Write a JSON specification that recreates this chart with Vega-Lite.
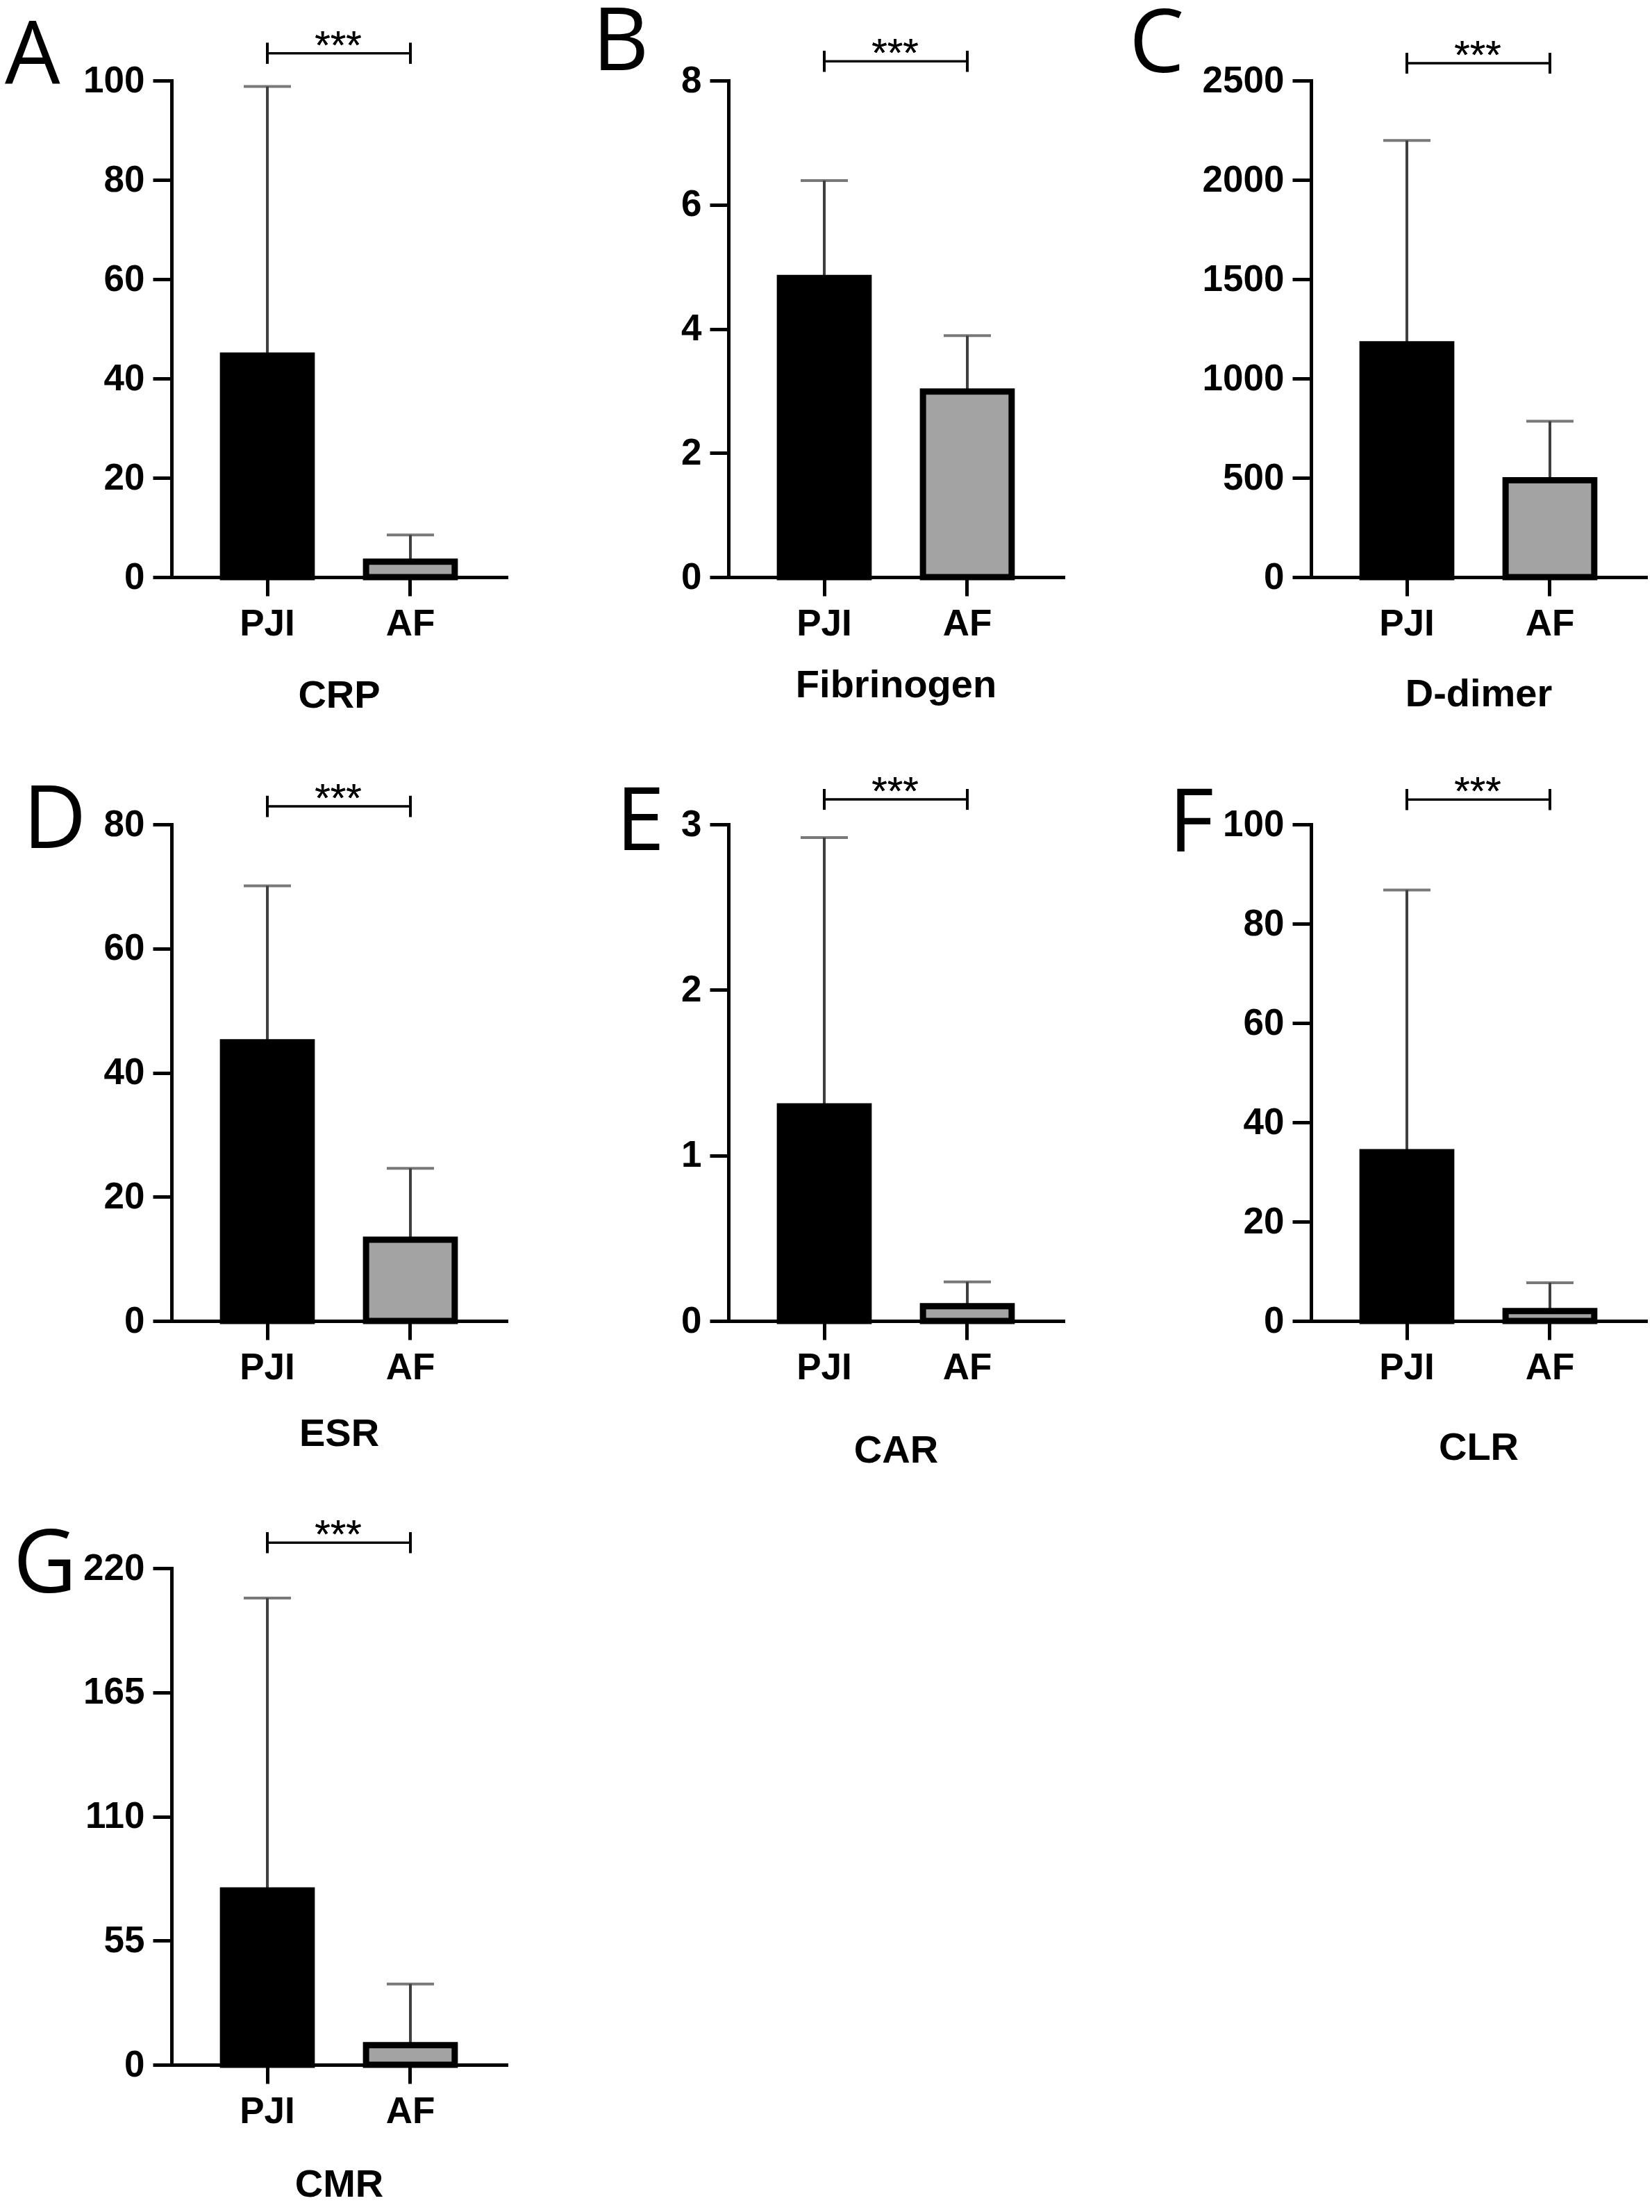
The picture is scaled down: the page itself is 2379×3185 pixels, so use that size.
{
  "$schema": "https://vega.github.io/schema/vega-lite/v6.json",
  "background": "white",
  "padding": {"left": 7, "top": 0, "right": 5, "bottom": 5},
  "columns": 3,
  "spacing": {"row": 356, "column": 335},
  "bounds": "flush",
  "align": "each",
  "config": {
    "view": {"stroke": null},
    "font": "Liberation Sans",
    "axis": {
      "grid": false,
      "domainColor": "black", "domainWidth": 5, "domainCap": "square",
      "tickColor": "black", "tickWidth": 5, "tickSize": 27,
      "labelFont": "Liberation Sans", "labelFontWeight": "bold", "labelFontSize": 53, "labelColor": "black",
      "titleFont": "Liberation Sans", "titleFontWeight": "bold", "titleFontSize": 56, "titleColor": "black"
    },
    "axisX": {"labelAngle": 0, "labelPadding": 14},
    "axisY": {"labelPadding": 12, "format": "d"},
    "title": {"font": "Open Sans", "fontSize": 126, "fontWeight": "normal", "anchor": "start", "frame": "group", "baseline": "alphabetic", "offset": 0, "color": "black"},
    "bar": {"stroke": "black", "strokeWidth": 9},
    "text": {"font": "Liberation Sans", "fontSize": 58, "color": "black", "baseline": "alphabetic", "align": "center"}
  },
  "concat": [
    {
      "title": {"text": "A", "dx": -240, "dy": 112},
      "width": 467, "height": 715,
      "data": {"values": [{"group": "PJI", "mean": 44.6, "upper": 98.8}, {"group": "AF", "mean": 3.1, "upper": 8.5}]},
      "encoding": {"x": {"field": "group", "type": "nominal", "sort": ["PJI", "AF"], "scale": {"range": [0, 482], "paddingInner": 0.38, "paddingOuter": 0.36}, "axis": {"title": "CRP", "titlePadding": 49}}},
      "layer": [
        {"mark": {"type": "rule", "color": "#404040", "strokeWidth": 4}, "encoding": {"y": {"field": "mean", "type": "quantitative", "scale": {"domain": [0, 100], "nice": false}, "axis": {"values": [0, 20, 40, 60, 80, 100], "title": null}}, "y2": {"field": "upper"}}},
        {"mark": {"type": "tick", "color": "#404040", "thickness": 4, "size": 68}, "encoding": {"y": {"field": "upper", "type": "quantitative"}}},
        {"mark": {"type": "bar"}, "encoding": {"y": {"field": "mean", "type": "quantitative"}, "fill": {"field": "group", "type": "nominal", "scale": {"domain": ["PJI", "AF"], "range": ["black", "#a3a3a3"]}, "legend": null}}},
        {"mark": {"type": "rule", "color": "black", "strokeWidth": 3}, "encoding": {"x": {"datum": "PJI"}, "x2": {"datum": "AF"}, "y": {"datum": 105.5}}},
        {"mark": {"type": "rule", "color": "black", "strokeWidth": 4}, "encoding": {"x": {"datum": "PJI"}, "y": {"datum": 103.4}, "y2": {"datum": 107.6}}},
        {"mark": {"type": "rule", "color": "black", "strokeWidth": 4}, "encoding": {"x": {"datum": "AF"}, "y": {"datum": 103.4}, "y2": {"datum": 107.6}}},
        {"mark": {"type": "text", "dx": 102, "dy": 8}, "encoding": {"x": {"datum": "PJI"}, "y": {"datum": 105.5}, "text": {"value": "***"}}}
      ]
    },
    {
      "title": {"text": "B", "dx": -196, "dy": 81},
      "width": 504, "height": 715,
      "data": {"values": [{"group": "PJI", "mean": 4.82, "upper": 6.39}, {"group": "AF", "mean": 2.99, "upper": 3.89}]},
      "encoding": {"x": {"field": "group", "type": "nominal", "sort": ["PJI", "AF"], "scale": {"range": [0, 482], "paddingInner": 0.38, "paddingOuter": 0.36}, "axis": {"title": "Fibrinogen", "titlePadding": 34}}},
      "layer": [
        {"mark": {"type": "rule", "color": "#404040", "strokeWidth": 4}, "encoding": {"y": {"field": "mean", "type": "quantitative", "scale": {"domain": [0, 8], "nice": false}, "axis": {"values": [0, 2, 4, 6, 8], "title": null}}, "y2": {"field": "upper"}}},
        {"mark": {"type": "tick", "color": "#404040", "thickness": 4, "size": 68}, "encoding": {"y": {"field": "upper", "type": "quantitative"}}},
        {"mark": {"type": "bar"}, "encoding": {"y": {"field": "mean", "type": "quantitative"}, "fill": {"field": "group", "type": "nominal", "scale": {"domain": ["PJI", "AF"], "range": ["black", "#a3a3a3"]}, "legend": null}}},
        {"mark": {"type": "rule", "color": "black", "strokeWidth": 3}, "encoding": {"x": {"datum": "PJI"}, "x2": {"datum": "AF"}, "y": {"datum": 8.31}}},
        {"mark": {"type": "rule", "color": "black", "strokeWidth": 4}, "encoding": {"x": {"datum": "PJI"}, "y": {"datum": 8.142}, "y2": {"datum": 8.478}}},
        {"mark": {"type": "rule", "color": "black", "strokeWidth": 4}, "encoding": {"x": {"datum": "AF"}, "y": {"datum": 8.142}, "y2": {"datum": 8.478}}},
        {"mark": {"type": "text", "dx": 102, "dy": 8}, "encoding": {"x": {"datum": "PJI"}, "y": {"datum": 8.31}, "text": {"value": "***"}}}
      ]
    },
    {
      "title": {"text": "C", "dx": -262, "dy": 81},
      "width": 482, "height": 715,
      "data": {"values": [{"group": "PJI", "mean": 1172, "upper": 2198}, {"group": "AF", "mean": 488, "upper": 785}]},
      "encoding": {"x": {"field": "group", "type": "nominal", "sort": ["PJI", "AF"], "scale": {"range": [0, 482], "paddingInner": 0.38, "paddingOuter": 0.36}, "axis": {"title": "D-dimer", "titlePadding": 47}}},
      "layer": [
        {"mark": {"type": "rule", "color": "#404040", "strokeWidth": 4}, "encoding": {"y": {"field": "mean", "type": "quantitative", "scale": {"domain": [0, 2500], "nice": false}, "axis": {"values": [0, 500, 1000, 1500, 2000, 2500], "title": null}}, "y2": {"field": "upper"}}},
        {"mark": {"type": "tick", "color": "#404040", "thickness": 4, "size": 68}, "encoding": {"y": {"field": "upper", "type": "quantitative"}}},
        {"mark": {"type": "bar"}, "encoding": {"y": {"field": "mean", "type": "quantitative"}, "fill": {"field": "group", "type": "nominal", "scale": {"domain": ["PJI", "AF"], "range": ["black", "#a3a3a3"]}, "legend": null}}},
        {"mark": {"type": "rule", "color": "black", "strokeWidth": 3}, "encoding": {"x": {"datum": "PJI"}, "x2": {"datum": "AF"}, "y": {"datum": 2587}}},
        {"mark": {"type": "rule", "color": "black", "strokeWidth": 4}, "encoding": {"x": {"datum": "PJI"}, "y": {"datum": 2535}, "y2": {"datum": 2639}}},
        {"mark": {"type": "rule", "color": "black", "strokeWidth": 4}, "encoding": {"x": {"datum": "AF"}, "y": {"datum": 2535}, "y2": {"datum": 2639}}},
        {"mark": {"type": "text", "dx": 102, "dy": 8}, "encoding": {"x": {"datum": "PJI"}, "y": {"datum": 2587}, "text": {"value": "***"}}}
      ]
    },
    {
      "title": {"text": "D", "dx": -214, "dy": 128},
      "width": 467, "height": 715,
      "data": {"values": [{"group": "PJI", "mean": 44.9, "upper": 70.1}, {"group": "AF", "mean": 13.1, "upper": 24.6}]},
      "encoding": {"x": {"field": "group", "type": "nominal", "sort": ["PJI", "AF"], "scale": {"range": [0, 482], "paddingInner": 0.38, "paddingOuter": 0.36}, "axis": {"title": "ESR", "titlePadding": 41}}},
      "layer": [
        {"mark": {"type": "rule", "color": "#404040", "strokeWidth": 4}, "encoding": {"y": {"field": "mean", "type": "quantitative", "scale": {"domain": [0, 80], "nice": false}, "axis": {"values": [0, 20, 40, 60, 80], "title": null}}, "y2": {"field": "upper"}}},
        {"mark": {"type": "tick", "color": "#404040", "thickness": 4, "size": 68}, "encoding": {"y": {"field": "upper", "type": "quantitative"}}},
        {"mark": {"type": "bar"}, "encoding": {"y": {"field": "mean", "type": "quantitative"}, "fill": {"field": "group", "type": "nominal", "scale": {"domain": ["PJI", "AF"], "range": ["black", "#a3a3a3"]}, "legend": null}}},
        {"mark": {"type": "rule", "color": "black", "strokeWidth": 3}, "encoding": {"x": {"datum": "PJI"}, "x2": {"datum": "AF"}, "y": {"datum": 82.9}}},
        {"mark": {"type": "rule", "color": "black", "strokeWidth": 4}, "encoding": {"x": {"datum": "PJI"}, "y": {"datum": 81.2}, "y2": {"datum": 84.6}}},
        {"mark": {"type": "rule", "color": "black", "strokeWidth": 4}, "encoding": {"x": {"datum": "AF"}, "y": {"datum": 81.2}, "y2": {"datum": 84.6}}},
        {"mark": {"type": "text", "dx": 102, "dy": 8}, "encoding": {"x": {"datum": "PJI"}, "y": {"datum": 82.9}, "text": {"value": "***"}}}
      ]
    },
    {
      "title": {"text": "E", "dx": -162, "dy": 141},
      "width": 504, "height": 715,
      "data": {"values": [{"group": "PJI", "mean": 1.296, "upper": 2.92}, {"group": "AF", "mean": 0.089, "upper": 0.236}]},
      "encoding": {"x": {"field": "group", "type": "nominal", "sort": ["PJI", "AF"], "scale": {"range": [0, 482], "paddingInner": 0.38, "paddingOuter": 0.36}, "axis": {"title": "CAR", "titlePadding": 65}}},
      "layer": [
        {"mark": {"type": "rule", "color": "#404040", "strokeWidth": 4}, "encoding": {"y": {"field": "mean", "type": "quantitative", "scale": {"domain": [0, 3], "nice": false}, "axis": {"values": [0, 1, 2, 3], "title": null}}, "y2": {"field": "upper"}}},
        {"mark": {"type": "tick", "color": "#404040", "thickness": 4, "size": 68}, "encoding": {"y": {"field": "upper", "type": "quantitative"}}},
        {"mark": {"type": "bar"}, "encoding": {"y": {"field": "mean", "type": "quantitative"}, "fill": {"field": "group", "type": "nominal", "scale": {"domain": ["PJI", "AF"], "range": ["black", "#a3a3a3"]}, "legend": null}}},
        {"mark": {"type": "rule", "color": "black", "strokeWidth": 3}, "encoding": {"x": {"datum": "PJI"}, "x2": {"datum": "AF"}, "y": {"datum": 3.151}}},
        {"mark": {"type": "rule", "color": "black", "strokeWidth": 4}, "encoding": {"x": {"datum": "PJI"}, "y": {"datum": 3.088}, "y2": {"datum": 3.214}}},
        {"mark": {"type": "rule", "color": "black", "strokeWidth": 4}, "encoding": {"x": {"datum": "AF"}, "y": {"datum": 3.088}, "y2": {"datum": 3.214}}},
        {"mark": {"type": "text", "dx": 102, "dy": 8}, "encoding": {"x": {"datum": "PJI"}, "y": {"datum": 3.151}, "text": {"value": "***"}}}
      ]
    },
    {
      "title": {"text": "F", "dx": -205, "dy": 143},
      "width": 482, "height": 715,
      "data": {"values": [{"group": "PJI", "mean": 34.0, "upper": 86.8}, {"group": "AF", "mean": 2.0, "upper": 7.7}]},
      "encoding": {"x": {"field": "group", "type": "nominal", "sort": ["PJI", "AF"], "scale": {"range": [0, 482], "paddingInner": 0.38, "paddingOuter": 0.36}, "axis": {"title": "CLR", "titlePadding": 61}}},
      "layer": [
        {"mark": {"type": "rule", "color": "#404040", "strokeWidth": 4}, "encoding": {"y": {"field": "mean", "type": "quantitative", "scale": {"domain": [0, 100], "nice": false}, "axis": {"values": [0, 20, 40, 60, 80, 100], "title": null}}, "y2": {"field": "upper"}}},
        {"mark": {"type": "tick", "color": "#404040", "thickness": 4, "size": 68}, "encoding": {"y": {"field": "upper", "type": "quantitative"}}},
        {"mark": {"type": "bar"}, "encoding": {"y": {"field": "mean", "type": "quantitative"}, "fill": {"field": "group", "type": "nominal", "scale": {"domain": ["PJI", "AF"], "range": ["black", "#a3a3a3"]}, "legend": null}}},
        {"mark": {"type": "rule", "color": "black", "strokeWidth": 3}, "encoding": {"x": {"datum": "PJI"}, "x2": {"datum": "AF"}, "y": {"datum": 105.0}}},
        {"mark": {"type": "rule", "color": "black", "strokeWidth": 4}, "encoding": {"x": {"datum": "PJI"}, "y": {"datum": 102.9}, "y2": {"datum": 107.1}}},
        {"mark": {"type": "rule", "color": "black", "strokeWidth": 4}, "encoding": {"x": {"datum": "AF"}, "y": {"datum": 102.9}, "y2": {"datum": 107.1}}},
        {"mark": {"type": "text", "dx": 102, "dy": 8}, "encoding": {"x": {"datum": "PJI"}, "y": {"datum": 105.0}, "text": {"value": "***"}}}
      ]
    },
    {
      "title": {"text": "G", "dx": -228, "dy": 140},
      "width": 467, "height": 715,
      "data": {"values": [{"group": "PJI", "mean": 77.2, "upper": 206.8}, {"group": "AF", "mean": 8.7, "upper": 35.8}]},
      "encoding": {"x": {"field": "group", "type": "nominal", "sort": ["PJI", "AF"], "scale": {"range": [0, 482], "paddingInner": 0.38, "paddingOuter": 0.36}, "axis": {"title": "CMR", "titlePadding": 51}}},
      "layer": [
        {"mark": {"type": "rule", "color": "#404040", "strokeWidth": 4}, "encoding": {"y": {"field": "mean", "type": "quantitative", "scale": {"domain": [0, 220], "nice": false}, "axis": {"values": [0, 55, 110, 165, 220], "title": null}}, "y2": {"field": "upper"}}},
        {"mark": {"type": "tick", "color": "#404040", "thickness": 4, "size": 68}, "encoding": {"y": {"field": "upper", "type": "quantitative"}}},
        {"mark": {"type": "bar"}, "encoding": {"y": {"field": "mean", "type": "quantitative"}, "fill": {"field": "group", "type": "nominal", "scale": {"domain": ["PJI", "AF"], "range": ["black", "#a3a3a3"]}, "legend": null}}},
        {"mark": {"type": "rule", "color": "black", "strokeWidth": 3}, "encoding": {"x": {"datum": "PJI"}, "x2": {"datum": "AF"}, "y": {"datum": 231.3}}},
        {"mark": {"type": "rule", "color": "black", "strokeWidth": 4}, "encoding": {"x": {"datum": "PJI"}, "y": {"datum": 226.7}, "y2": {"datum": 235.9}}},
        {"mark": {"type": "rule", "color": "black", "strokeWidth": 4}, "encoding": {"x": {"datum": "AF"}, "y": {"datum": 226.7}, "y2": {"datum": 235.9}}},
        {"mark": {"type": "text", "dx": 102, "dy": 8}, "encoding": {"x": {"datum": "PJI"}, "y": {"datum": 231.3}, "text": {"value": "***"}}}
      ]
    }
  ]
}
